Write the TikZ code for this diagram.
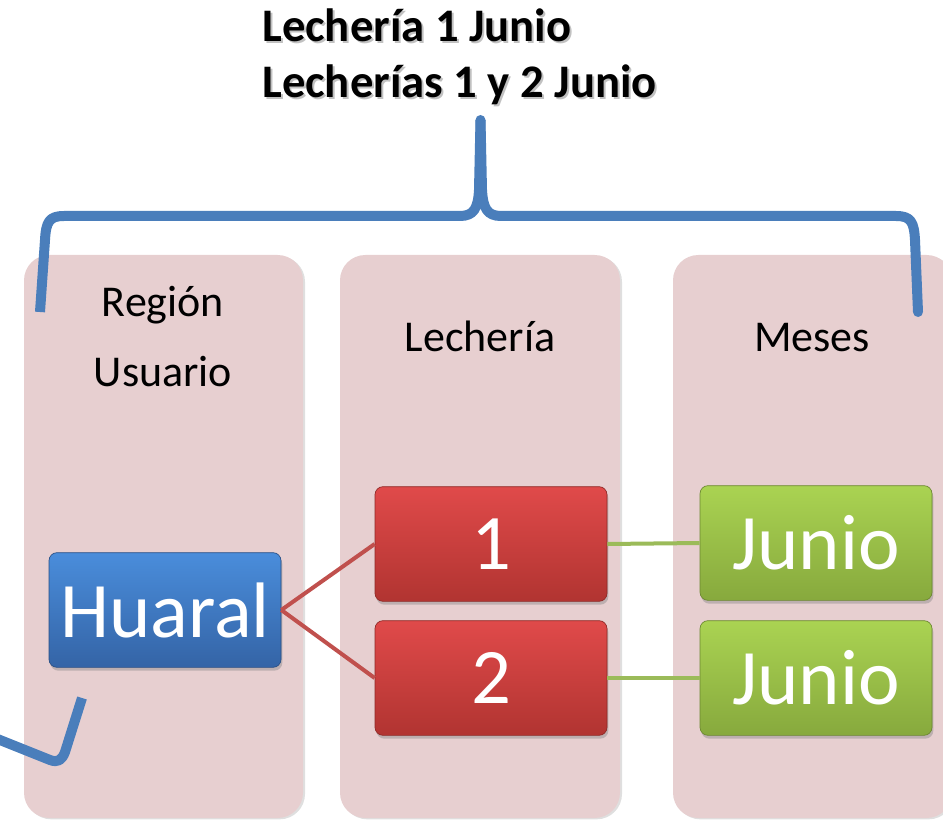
\documentclass[tikz,border=0pt]{standalone}
\usepackage{fontspec}
\setmainfont{Carlito}
\usepackage{tikz}
\usetikzlibrary{positioning,shadows}
\definecolor{panelpink}{HTML}{E7CFD0}
\definecolor{braceblue}{HTML}{4A7EBB}
\definecolor{linkred}{HTML}{C0504D}
\definecolor{linkgreen}{HTML}{9BBB59}
\definecolor{bluetop}{HTML}{4A8DDB}
\definecolor{bluebot}{HTML}{3464A6}
\definecolor{redtop}{HTML}{E04A4A}
\definecolor{redbot}{HTML}{B13431}
\definecolor{greentop}{HTML}{AAD352}
\definecolor{greenbot}{HTML}{87A93D}
\tikzset{panel/.style={fill=panelpink,rounded corners=19pt,drop shadow={shadow xshift=1.5pt,shadow yshift=-1pt,opacity=0.25}},
    coltitle/.style={font=\fontsize{33}{52}\selectfont,align=center,anchor=base,inner sep=0pt},
    toptext/.style={font=\bfseries\fontsize{35}{42}\selectfont,anchor=base west,inner sep=0pt},
    box/.style={rectangle,rounded corners=6pt,text=white,font=\fontsize{59}{70}\selectfont,
        minimum width=174pt,minimum height=86pt,inner sep=0pt,
        drop shadow={shadow xshift=1pt,shadow yshift=-2.5pt,opacity=0.4}},
    bluebox/.style={box,top color=bluetop,bottom color=bluebot,draw=bluebot!80!black,line width=0.5pt},
    redbox/.style={box,top color=redtop,bottom color=redbot,draw=redbot!80!black,line width=0.5pt},
    greenbox/.style={box,top color=greentop,bottom color=greenbot,draw=greenbot!80!black,line width=0.5pt},
    brace/.style={draw=braceblue,line width=7.5pt,line join=round}}

\begin{document}
\begin{tikzpicture}[x=0.75pt,y=-0.75pt]
        \useasboundingbox (0,0) rectangle (943,820);

        % columns
        \fill[panel] (24,255) rectangle (303,818);
        \fill[panel] (340,255) rectangle (620,818);
        \fill[panel] (673,255) rectangle (952,818);

        \node[coltitle] (region) at (163,386) {Región\\Usuario};
        \node[coltitle] (lecheria) at (480,351) {Lechería};
        \node[coltitle] (meses) at (812,351) {Meses};

        % top text with its shadow
        \node[toptext,text=black!30,opacity=0.8] (line1s) at (264,44) {Lechería 1 Junio};
        \node[toptext,text=black!30,opacity=0.8] (line2s) at (264,100) {Lecherías 1 y 2 Junio};
        \node[toptext] (line1) at (262,42) {Lechería 1 Junio};
        \node[toptext] (line2) at (262,98) {Lecherías 1 y 2 Junio};

        % brace
        \draw[brace] (40,312) -- (45,240) .. controls (46,222) and (49,216) .. (64,216) -- (460,216)
            .. controls (474,216) and (478,208) .. (479,190) -- (480.5,120);
        \draw[brace,line cap=round] (480.5,120) -- (482,190) .. controls (483,208) and (487,216) .. (501,216)
            -- (896,216) .. controls (911,216) and (914,222) .. (915,240) -- (918,312);
        \draw[brace] (-5,738) -- (50,760) .. controls (58,763) and (62,760) .. (65,752) -- (82,698);

        % boxes
        \node[bluebox] (huaral) at (165,610) {Huaral};
        \node[redbox] (lech1) at (491,544) {1};
        \node[redbox] (lech2) at (491,678) {2};
        \node[greenbox] (mes1) at (816,543) {Junio};
        \node[greenbox] (mes2) at (816,678) {Junio};

        \draw[linkred,line width=3pt] (huaral.east) -- (lech1.west);
        \draw[linkred,line width=3pt] (huaral.east) -- (lech2.west);
        \draw[linkgreen,line width=3pt] (lech1.east) -- (mes1.west);
        \draw[linkgreen,line width=3pt] (lech2.east) -- (mes2.west);
    \end{tikzpicture}
\end{document}
